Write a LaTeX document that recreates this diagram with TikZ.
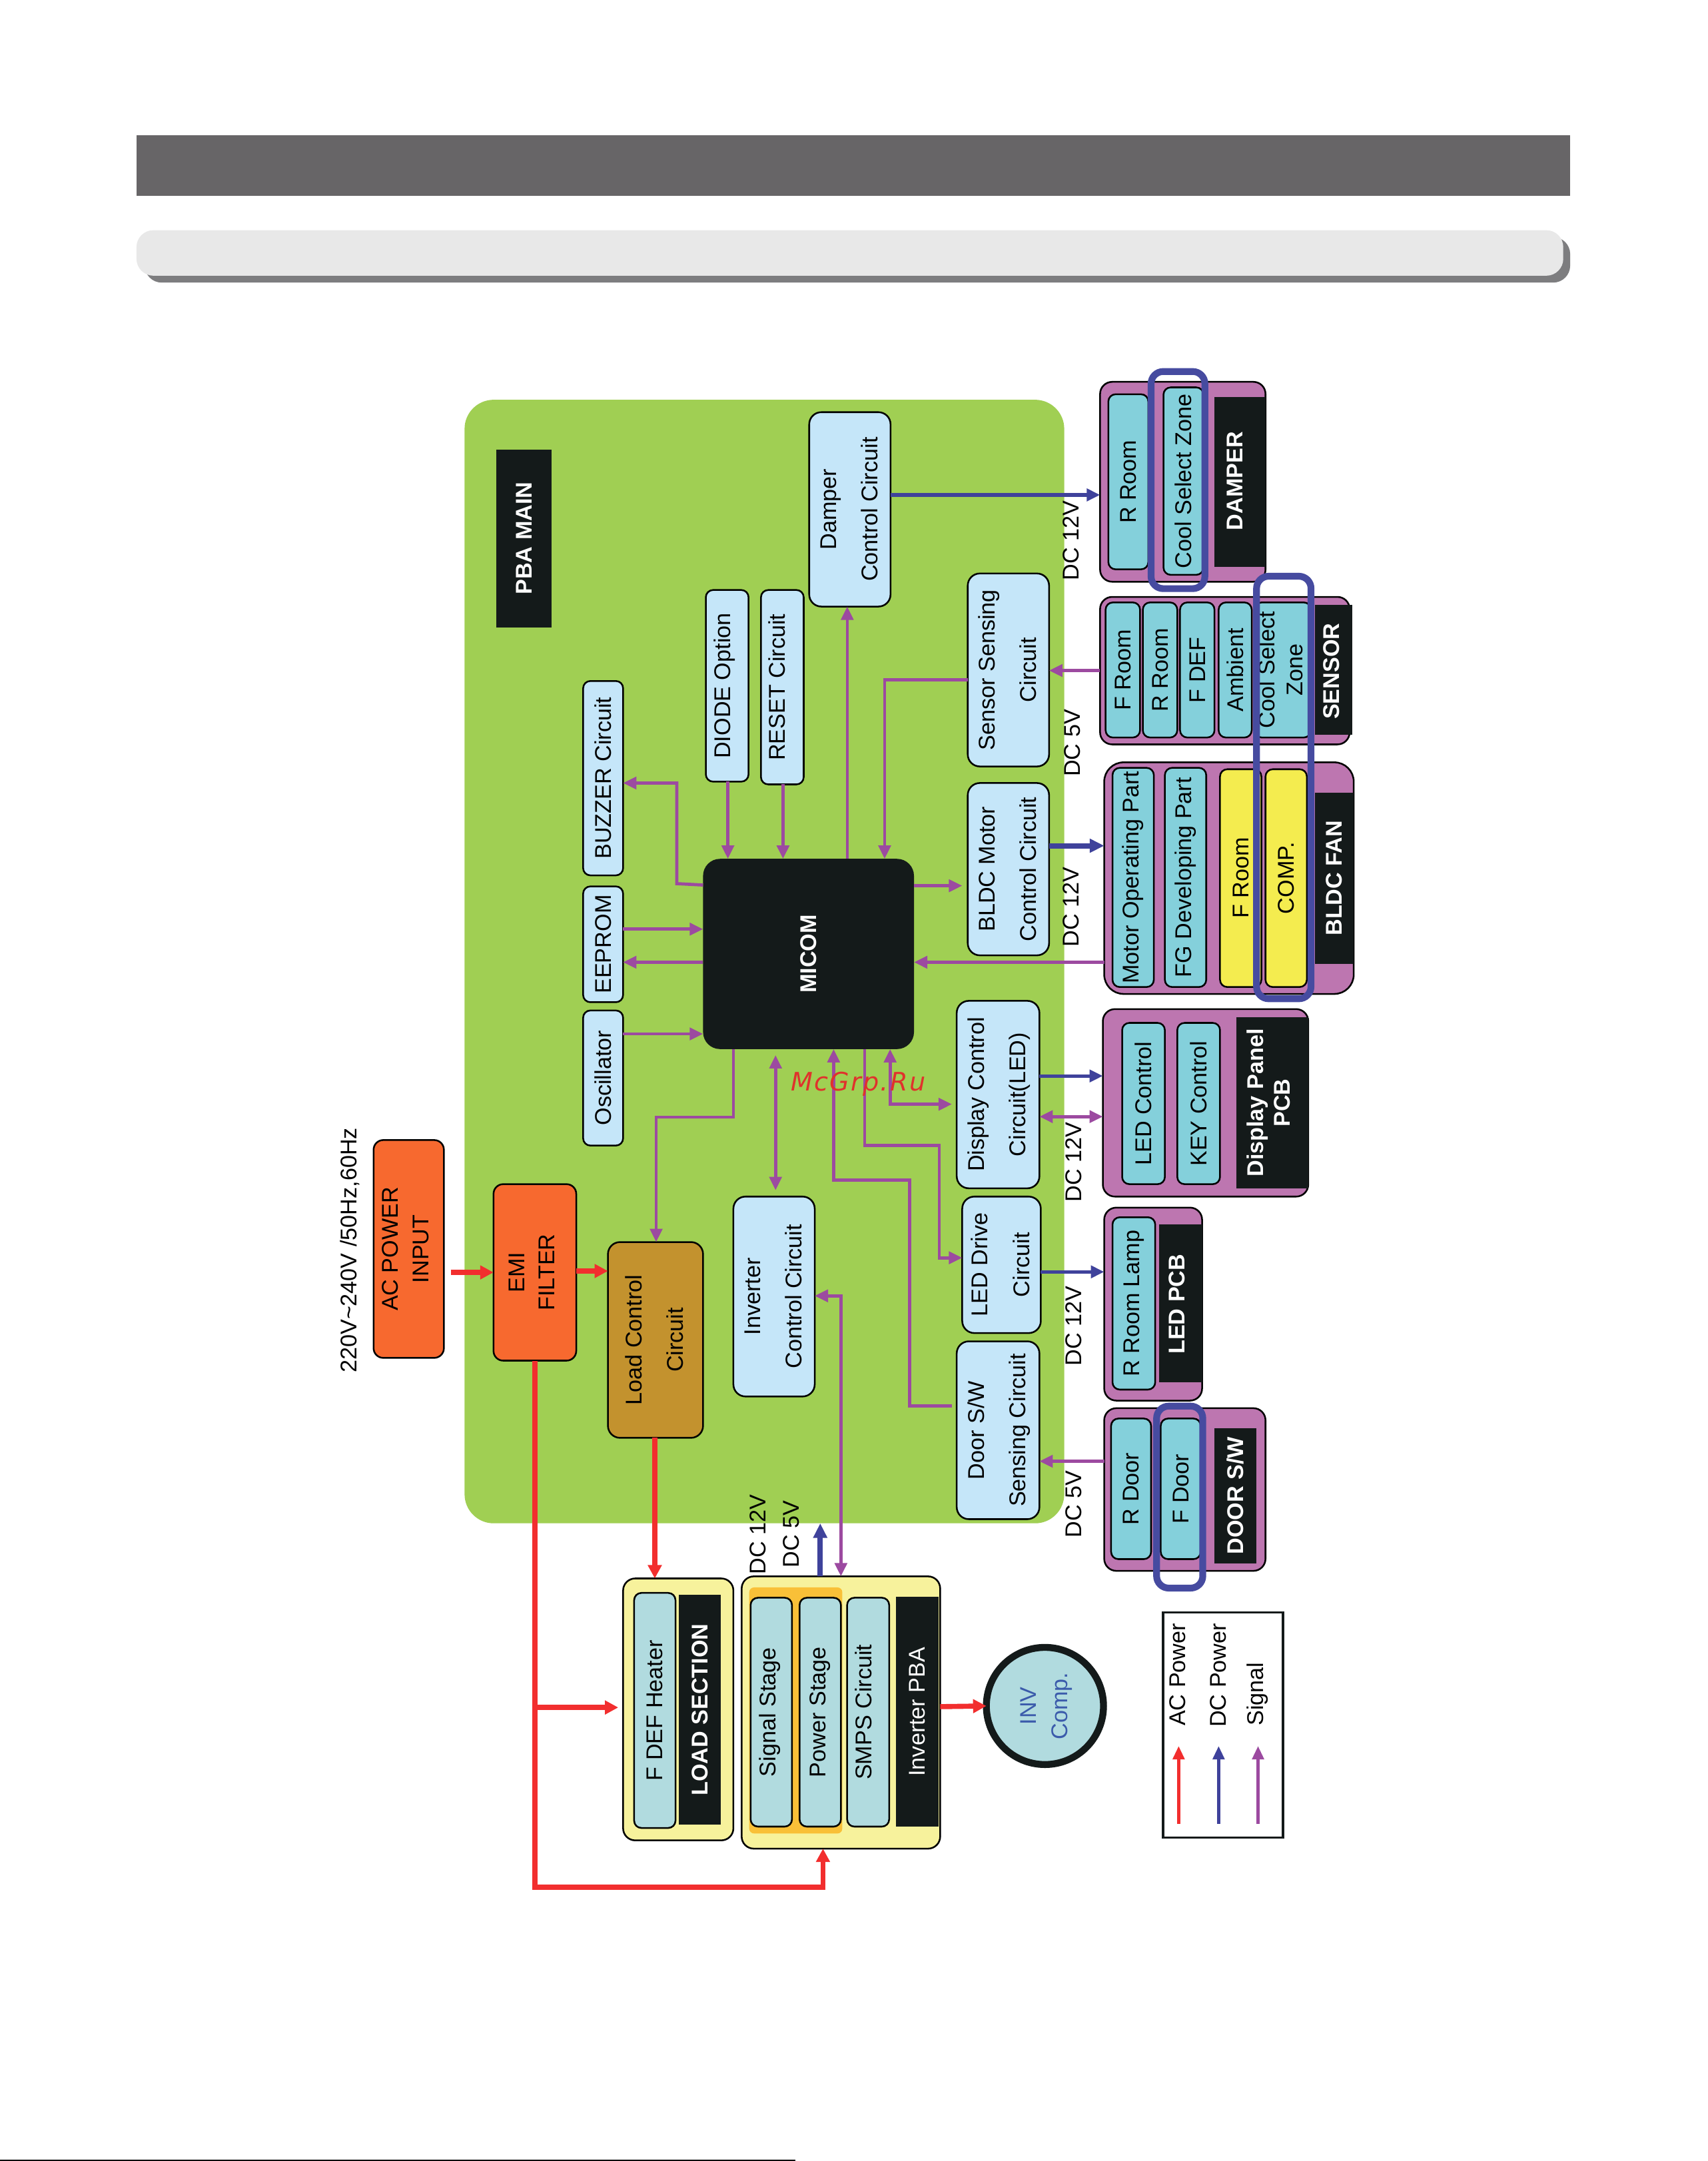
\documentclass[tikz,border=0pt]{standalone}
\usepackage{fontspec}
\setmainfont{Liberation Sans}
\newfontfamily\wmfont[LetterSpace=6]{DejaVu Sans}
\usetikzlibrary{arrows.meta,calc}
\definecolor{cblack}{HTML}{141A1A}
\definecolor{cgreen}{HTML}{A0CF53}
\definecolor{cpan}{HTML}{C5E6F9}
\definecolor{cload}{HTML}{C3922E}
\definecolor{corg}{HTML}{F7692F}
\definecolor{cpur}{HTML}{BD76B0}
\definecolor{ccy}{HTML}{84D0DB}
\definecolor{cpale}{HTML}{B1DBDF}
\definecolor{cyel}{HTML}{F4EC4F}
\definecolor{cpy}{HTML}{F7F29C}
\definecolor{cpatch}{HTML}{F9C038}
\definecolor{csig}{HTML}{9C4AA0}
\definecolor{cdc}{HTML}{3F429B}
\definecolor{cac}{HTML}{F22E2E}
\definecolor{cring}{HTML}{464BA0}
\definecolor{cinv}{HTML}{3B5BAB}
\newcommand\boxat[7]{\node[#6,minimum width={(#4-#2)*0.02cm},minimum height={(#5-#3)*0.02cm}] (#1) at ({(#2+#4)/2},{(#3+#5)/2}) {\rotatebox{90}{#7}};}
\newcommand\twox[5]{\begin{tabular}{@{}c@{}}\noalign{\vskip#1}#4\\[#3]#5\\[#2]\end{tabular}}
\newcommand\twol[2]{\twox{1pt}{0pt}{5.1pt}{#1}{#2}}
\newcommand\oneleft[2]{\begin{tabular}{@{}c@{}}#2\\[#1]\end{tabular}}
\tikzset{
  base/.style={inner sep=0pt,outer sep=0pt,font=\fontsize{9.4}{12}\selectfont},
  bb/.style={base,draw=black,line width=0.7pt,rounded corners=#1},
  bb/.default=5pt,
  pan/.style={bb=5pt,fill=cpan},
  redbox/.style={bb=4pt,fill=corg},
  loadbox/.style={bb=5pt,fill=cload},
  grp/.style={bb=5pt,fill=cpur},
  cy/.style={bb=3pt,fill=ccy},
  yl/.style={bb=3pt,fill=cyel},
  pl/.style={bb=3pt,fill=cpale},
  pygrp/.style={bb=5pt,fill=cpy},
  lab/.style={base,fill=cblack,text=white,font=\fontsize{9.4}{12}\selectfont\bfseries},
  labtxt/.style={base,rotate=90,text=white,align=center,font=\fontsize{9.4}{11}\selectfont\bfseries},
  txt/.style={base,rotate=90},
  ring/.style={draw=cring,line width=2.8pt,rounded corners=5pt},
  sig/.style={draw=csig,line width=1.3pt,-{Triangle[length=5.5pt,width=5pt]}},
  sigb/.style={draw=csig,line width=1.3pt,{Triangle[length=5.5pt,width=5pt]}-{Triangle[length=5.5pt,width=5pt]}},
  dc/.style={draw=cdc,line width=1.3pt,-{Triangle[length=5.5pt,width=5pt]}},
  dct/.style={draw=cdc,line width=2.2pt,-{Triangle[length=6pt,width=5.5pt]}},
  ac/.style={draw=cac,line width=2.1pt,-{Triangle[length=5.5pt,width=5.5pt]}},
}
\begin{document}
\begin{tikzpicture}[x=0.02cm,y=-0.02cm]
\useasboundingbox (0,0) rectangle (1239,1567.6);
% header
\fill[fill=white] (0,0) rectangle (1239,1567.6);
\fill[fill={rgb,255:red,103;green,101;blue,103}] (99,98) rectangle (1139,142);
\fill[fill={rgb,255:red,125;green,125;blue,127},rounded corners=7pt] (105,172) rectangle (1139,205);
\fill[fill={rgb,255:red,232;green,232;blue,232},rounded corners=7pt] (99,167) rectangle (1134,200);
\fill[fill=black] (0,1566.8) rectangle (577,1567.6);
% main panel
\fill[cgreen,rounded corners=12pt] (337,290) rectangle (772,1105);
\boxat{pbamain}{360}{326}{400}{455}{lab}{PBA MAIN}
% left
\node[txt] (mains) at (254,907) {220V\textasciitilde240V /50Hz,60Hz};
\boxat{acin}{271}{827}{322}{985}{redbox}{\twox{0pt}{1pt}{0.5pt}{AC POWER}{INPUT}}
\boxat{emi}{358}{859}{418}{987}{redbox}{\twox{0pt}{1pt}{0.5pt}{EMI}{FILTER}}
\boxat{loadc}{441}{901}{510}{1043}{loadbox}{\twol{Load Control}{Circuit}}
\boxat{invc}{532}{868}{591}{1013}{pan}{\twol{Inverter}{Control Circuit}}
\boxat{door}{694}{973}{754}{1102}{pan}{\twol{Door S/W}{Sensing Circuit}}
\boxat{leddr}{698}{868}{755}{967}{pan}{\twol{LED Drive}{Circuit}}
\boxat{disp}{694}{726}{754}{862}{pan}{\twol{Display Control}{Circuit(LED)}}
\boxat{bldc}{702}{568}{761}{693}{pan}{\twol{BLDC Motor}{Control Circuit}}
\boxat{sens}{702}{416}{761}{556}{pan}{\twol{Sensor Sensing}{Circuit}}
\boxat{damp}{587}{299}{646}{440}{pan}{\twol{Damper}{Control Circuit}}
\boxat{reset}{552}{428}{583}{569}{bb=3pt,fill=cpan}{\oneleft{2.5pt}{RESET Circuit}}
\boxat{diode}{512}{428}{543}{567}{bb=3pt,fill=cpan}{\oneleft{2pt}{DIODE Option}}
\boxat{buzz}{423}{494}{452}{635}{bb=3pt,fill=cpan}{BUZZER Circuit}
\boxat{eep}{423}{643}{452}{727}{bb=3pt,fill=cpan}{EEPROM}
\boxat{osc}{423}{733}{452}{831}{bb=3pt,fill=cpan}{Oscillator}
\boxat{micom}{510}{623}{663}{761}{base,fill=cblack,rounded corners=7pt,text=white,font=\fontsize{9.4}{12}\selectfont\bfseries}{MICOM}
% damper group
\boxat{gdamp}{798}{277}{918}{422}{grp}{}
\boxat{droom}{804}{286}{833}{413}{cy}{R Room}
\boxat{dcool}{844}{281}{873}{417}{cy}{Cool Select Zone}
\boxat{dlab}{881}{288}{918}{411}{lab}{}
\node[labtxt] (dlabt) at (896,349) {DAMPER};
% sensor group
\boxat{gsens}{798}{433}{979}{540}{grp}{}
\boxat{s1}{802}{437}{827}{535}{cy}{F Room}
\boxat{s2}{829}{437}{854}{535}{cy}{R Room}
\boxat{s3}{856}{437}{881}{535}{cy}{F DEF}
\boxat{s4}{884}{437}{908}{535}{cy}{Ambient}
\boxat{s5}{913}{437}{948}{535}{cy}{\twox{0pt}{0pt}{-0.6pt}{Cool Select}{Zone}}
\boxat{slab}{954}{439}{981}{533}{lab}{}
\node[labtxt] (slabt) at (966,487) {SENSOR};
% fan group
\boxat{gfan}{801}{553}{982}{721}{bb=8pt,fill=cpur}{}
\boxat{f1}{807}{557}{837}{716}{cy}{Motor Operating Part}
\boxat{f2}{845}{557}{875}{716}{cy}{FG Developing Part}
\boxat{f3}{885}{558}{915}{716}{yl}{F Room}
\boxat{f4}{918}{558}{948}{716}{yl}{COMP.}
\boxat{flab}{954}{575}{982}{699}{lab}{BLDC FAN}
% display panel
\boxat{gpan}{800}{732}{949}{868}{grp}{}
\boxat{p1}{814}{742}{845}{859}{cy}{LED Control}
\boxat{p2}{854}{742}{885}{859}{cy}{KEY Control}
\boxat{plab}{897}{738}{949}{862}{lab}{}
\node[labtxt] (plabt) at (920,800) {Display Panel\\PCB};
% LED PCB
\boxat{gled}{801}{876}{872}{1016}{grp}{}
\boxat{l1}{807}{883}{838}{1008}{cy}{R Room Lamp}
\boxat{llab}{841}{888}{872}{1002.5}{lab}{}
\node[labtxt] (llabt) at (853.5,946) {LED PCB};
% door
\boxat{gdoor}{801}{1021.5}{918}{1139.5}{grp}{}
\boxat{d1}{806}{1029}{835}{1131}{cy}{R Door}
\boxat{d2}{842}{1029}{871}{1131}{cy}{F Door}
\boxat{dolab}{881}{1036}{911.5}{1134}{lab}{DOOR S/W}
% load section
\boxat{gload}{452}{1145}{532}{1335}{pygrp}{}
\boxat{h1}{460}{1155.5}{490}{1326}{pl}{F DEF Heater}
\boxat{hlab}{492.5}{1157}{523}{1323.5}{lab}{LOAD SECTION}
% inverter
\boxat{ginv}{538}{1143.5}{682}{1341}{pygrp}{}
\fill[cpatch,rounded corners=2pt] (543.5,1151.5) rectangle (611,1330);
\boxat{i1}{544.5}{1159}{574.5}{1325}{pl}{\oneleft{1pt}{Signal Stage}}
\boxat{i2}{580}{1159}{610}{1325}{pl}{Power Stage}
\boxat{i3}{614.5}{1159}{645}{1325}{pl}{\oneleft{2pt}{SMPS Circuit}}
\boxat{ilab}{650}{1158.5}{681}{1325}{base,fill=cblack,text=white}{Inverter PBA}
% comp
\node[circle,draw=cblack,line width=2.85pt,fill=cpale,minimum size=1.7cm,inner sep=0pt,outer sep=0pt,text=cinv,font=\fontsize{9.4}{12}\selectfont] (comp) at (758,1237.5) {\rotatebox{90}{\twox{1pt}{0pt}{1pt}{INV}{Comp.}}};
% rings
\draw[ring] (835,269.5) rectangle (874,427);
\draw[ring] (911.5,418) rectangle (951,724.5);
\draw[ring] (839,1020) rectangle (872.5,1152);
% DC labels
\node[txt] (v1) at (777,392) {DC 12V};
\node[txt] (v2) at (778,539) {DC 5V};
\node[txt] (v3) at (777,658) {DC 12V};
\node[txt] (v4) at (779,843) {DC 12V};
\node[txt] (v5) at (779,962) {DC 12V};
\node[txt] (v6) at (779,1091) {DC 5V};
\node[txt] (v7) at (550,1113) {DC 12V};
\node[txt] (v8) at (574,1113) {DC 5V};
% signals
\draw[sig] (micom.west |- 0,642) -- (491,641) -- (491,568) -- (buzz.east |- 0,568);
\draw[sig] (diode.south -| 528,0) -- (micom.north -| 528,0);
\draw[sig] (reset.south -| 568,0) -- (micom.north -| 568,0);
\draw[sig] (micom.north -| 614.6,0) -- (damp.south -| 614.6,0);
\draw[sig] (sens.west |- 0,493) -- (641.7,493) -- (micom.north -| 641.7,0);
\draw[sig] (micom.east |- 0,642.5) -- (698,642.5);
\draw[sig] (eep.east |- 0,674) -- (micom.west |- 0,674);
\draw[sig] (micom.west |- 0,698) -- (eep.east |- 0,698);
\draw[sig] (osc.east |- 0,750) -- (micom.west |- 0,750);
\draw[sig] (gfan.west |- 0,698) -- (micom.east |- 0,698);
\draw[sig] (micom.south -| 532,0) -- (532,810.4) -- (476,810.4) -- (loadc.north -| 476,0);
\draw[sigb] (562.6,765.4) -- (562.6,863.4);
\draw[sig] (690.5,1020) -- (659.7,1020) -- (659.7,856) -- (604.7,856) -- (micom.south -| 604.7,0);
\draw[sig] (micom.south -| 627.2,0) -- (627.2,831) -- (681.4,831) -- (681.4,912.4) -- (698,912.4);
\draw[sigb] (micom.south -| 645.7,0) -- (645.7,801) -- (690.5,801);
\draw[sigb] (disp.east |- 0,810) -- (gpan.west |- 0,810);
\draw[sig] (gdoor.west |- 0,1060) -- (door.east |- 0,1060);
\draw[sig] (gsens.west |- 0,486.4) -- (sens.east |- 0,486.4);
\draw[sigb] (invc.east |- 0,940) -- (610,940) -- (ginv.north -| 610,0);
% dc
\draw[dc,line width=1.6pt] (damp.east |- 0,359) -- (gdamp.west |- 0,359);
\draw[dct] (bldc.east |- 0,613.5) -- (gfan.west |- 0,613.5);
\draw[dc] (disp.east |- 0,780.5) -- (gpan.west |- 0,780.5);
\draw[dc] (leddr.east |- 0,922.6) -- (gled.west |- 0,922.6);
\draw[dct] (ginv.north -| 595,0) -- (595,1105);
% ac
\draw[ac] (327,923) -- (emi.west |- 0,923);
\draw[ac] (emi.east |- 0,922) -- (loadc.west |- 0,922);
\draw[ac] (loadc.south -| 475,0) -- (gload.north -| 475,0);
\draw[ac] (emi.south -| 388,0) -- (388,1369) -- (597,1369) -- (ginv.south -| 597,0);
\draw[ac] (388,1238.6) -- (448.5,1238.6);
\draw[ac] (ginv.east |- 0,1238) -- (comp.west);
% legend
\node[draw=cblack,line width=1pt,inner sep=0pt,outer sep=0pt,minimum width=1.744cm,minimum height=3.268cm] (legend) at (887.2,1251.3) {};
\node[txt,anchor=east] (la) at (854,1177.6) {AC Power};
\node[txt,anchor=east] (lb) at (883.5,1177.6) {DC Power};
\node[txt,anchor=east] (lc) at (912.4,1206) {Signal};
\draw[draw=cac,line width=1.2pt,-{Triangle[length=5.5pt,width=4.8pt]}] (855,1323) -- (855,1266.6);
\draw[draw=cdc,line width=1.2pt,-{Triangle[length=5.5pt,width=4.8pt]}] (884,1323) -- (884,1266.6);
\draw[draw=csig,line width=1.2pt,-{Triangle[length=5.5pt,width=4.8pt]}] (912.6,1323) -- (912.6,1266.6);
% watermark
\node[inner sep=0pt,text={rgb,255:red,224;green,50;blue,44},font=\wmfont\itshape\fontsize{10.5}{12}\selectfont] (wm) at (622.5,786.5) {McGrp.Ru};
\end{tikzpicture}
\end{document}
